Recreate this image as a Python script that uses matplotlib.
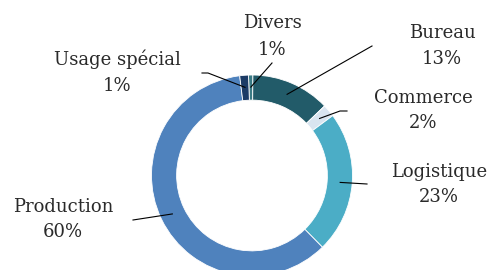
import numpy as np
import matplotlib
matplotlib.use("Agg")
import matplotlib.pyplot as plt

# parts (share in %) - clockwise from the top
categories = ["Divers", "Bureau", "Commerce", "Logistique", "Production", "Usage spécial"]
values = [0.7, 12.7, 2.0, 22.8, 60.4, 1.4]
pct_labels = ["1%", "13%", "2%", "23%", "60%", "1%"]
colors = ["#3a7b85", "#225b69", "#d9e5f0", "#4badc6", "#4f82bd", "#1c3b66"]

# pixel -> data (ring radius 1 = 100.5 px, centre at 252,175.5)
S = 100.5
CX, CY = 252, 175.5
def px(x, y):
    return (x - CX) / S, (CY - y) / S

# label positions (pixel) and leader line ends
label_pos = {
    "Divers": (272, 23, 50),
    "Bureau": (442, 33, 59),
    "Commerce": (423, 98, 123),
    "Logistique": (439, 172, 197),
    "Production": (63, 207, 232),
    "Usage spécial": (117, 59, 86),
}
leader_end = {
    "Divers": [(272, 63)],
    "Bureau": [(372, 46)],
    "Commerce": [(340, 111), (347, 111)],
    "Logistique": [(367, 184)],
    "Production": [(133, 220)],
    "Usage spécial": [(208, 73), (202, 73)],
}

fig = plt.figure(figsize=(4.89, 2.70), dpi=100)
ax = fig.add_axes([0, 0, 1, 1])

wedges, _ = ax.pie(values, colors=colors, startangle=92, counterclock=False,
                   radius=1.0, wedgeprops=dict(width=0.25, edgecolor="white", linewidth=0.6))

x0, y0 = px(0, 270)
x1, y1 = px(489, 0)
ax.set_xlim(x0, x1)
ax.set_ylim(y0, y1)
ax.set_aspect("auto")
ax.axis("off")

font = dict(family="DejaVu Serif", color="#2a2a2a", fontsize=13)

for w, cat, pct in zip(wedges, categories, pct_labels):
    mid = np.deg2rad((w.theta1 + w.theta2) / 2)
    sx, sy = 0.88 * np.cos(mid), 0.88 * np.sin(mid)
    pts = [(sx, sy)] + [px(*p) for p in leader_end[cat]]
    xs, ys = zip(*pts)
    ax.plot(xs, ys, color="black", lw=0.8)

    tx, ty1, ty2 = label_pos[cat]
    ax.text(*px(tx, ty1), cat, ha="center", va="center", **font)
    ax.text(*px(tx, ty2), pct, ha="center", va="center", **font)

fig.savefig("out.png", dpi=100)
